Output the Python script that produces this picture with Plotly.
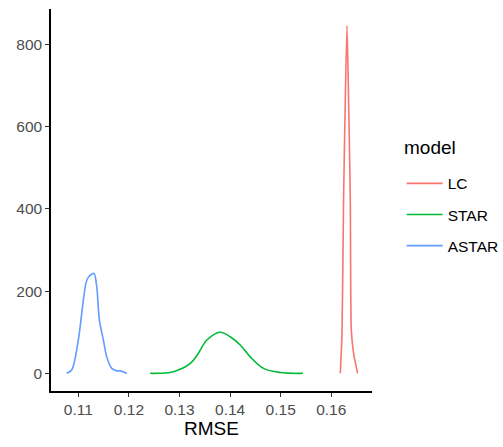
import plotly.graph_objects as go

# ---- data ----
models = ["LC", "STAR", "ASTAR"]
colors = ["#F8766D", "#00BA38", "#619CFF"]

lc_x = [0.16178, 0.16212, 0.16243, 0.16277, 0.16311, 0.16342, 0.16376, 0.16396, 0.16441, 0.16520]
lc_y = [0, 97, 422, 665, 845, 665, 422, 105, 49, 0]

star_x = [0.12419, 0.12880, 0.13214, 0.13374, 0.13541, 0.13804, 0.14002, 0.14200, 0.14398, 0.14660, 0.14991, 0.15440]
star_y = [0, 4, 24, 49, 81, 100, 89, 69, 40, 12, 2, 0]

astar_x = [0.10770, 0.10869, 0.11000, 0.11099, 0.11152, 0.11198, 0.11265, 0.11311, 0.11364,
           0.11416, 0.11495, 0.11562, 0.11661, 0.11760, 0.11825, 0.11958]
astar_y = [0, 8, 81, 178, 220, 234, 241, 243, 211, 130, 81, 40, 12, 6, 6, 0]

x_ticks = [0.11, 0.12, 0.13, 0.14, 0.15, 0.16]
x_labels = ["0.11", "0.12", "0.13", "0.14", "0.15", "0.16"]
y_ticks = [0, 200, 400, 600, 800]

series = [(lc_x, lc_y), (star_x, star_y), (astar_x, astar_y)]
smooth = [0.6, 1.0, 0.9]

fig = go.Figure()
for name, col, (xs, ys), sm in zip(models, colors, series, smooth):
    fig.add_trace(go.Scatter(x=xs, y=ys, mode="lines", name=name, legendgroup=name,
                             line=dict(color=col, width=1.6, shape="spline", smoothing=sm)))

fig.update_layout(
    width=503, height=447,
    margin=dict(l=51, r=131, t=9, b=56, autoexpand=False),
    paper_bgcolor="white", plot_bgcolor="white",
    font=dict(family="Liberation Sans, Arial, sans-serif", color="#4D4D4D", size=16),
    showlegend=True,
    legend=dict(
        font=dict(size=15.5, color="black"),
        x=1.0925, xanchor="left", y=0.587, yanchor="top",
        tracegroupgap=8, itemwidth=36,
        bgcolor="rgba(0,0,0,0)",
    ),
    annotations=[dict(text="model", xref="paper", yref="paper",
                      x=1.094, xanchor="left", y=(391 - 147) / 382, yanchor="middle",
                      showarrow=False, font=dict(size=19, color="black"))],
)
fig.update_xaxes(
    range=[0.1046, 0.16805], tickvals=x_ticks, ticktext=x_labels,
    showgrid=False, zeroline=False,
    showline=True, linecolor="black", linewidth=1.5,
    ticks="outside", ticklen=4, tickcolor="#333333", tickwidth=1.2,
    tickfont=dict(size=15.5, color="#4D4D4D"),
    title=dict(text="RMSE", font=dict(size=19, color="black"), standoff=4),
)
fig.update_yaxes(
    range=[-43, 886], tickvals=y_ticks,
    showgrid=False, zeroline=False,
    showline=True, linecolor="black", linewidth=1.5,
    ticks="outside", ticklen=4, tickcolor="#333333", tickwidth=1.2,
    tickfont=dict(size=15.5, color="#4D4D4D"),
)

fig.write_html("out.html")
